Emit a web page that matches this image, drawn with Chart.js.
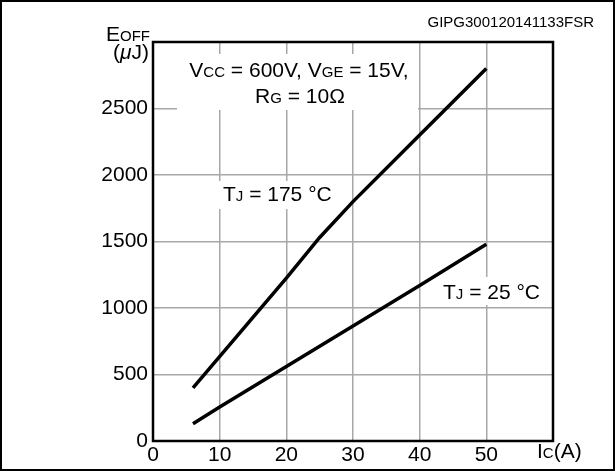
<!DOCTYPE html>
<html>
<head>
<meta charset="utf-8">
<script src="https://cdn.jsdelivr.net/npm/chart.js@4"></script>
<style>
  body { margin: 0; background: #fff; }
  canvas { display: block; }
</style>
</head>
<body>
<canvas id="chart" width="615" height="471"></canvas>
<script>
// datos
const icValues = [6, 20, 25, 30, 40, 50];
const eoff175 = [400, 1225, 1530, 1800, 2300, 2800];
const icValues25 = [6, 10, 20, 30, 40, 50];
const eoff25 = [130, 255, 560, 865, 1170, 1480];
const xTicks = [0, 10, 20, 30, 40, 50];
const yTicks = [0, 500, 1000, 1500, 2000, 2500];

const FONT = "'Liberation Sans', Arial, Helvetica, sans-serif";

function toPoints(xs, ys) {
    return xs.map(function (x, i) { return { x: x, y: ys[i] }; });
}

// texto con subindices (partes de distinto tamano)
function richText(ctx, parts, x, y, align) {
    let w = 0;
    parts.forEach(function (p) {
        ctx.font = (p[2] || '') + ' ' + p[1] + 'px ' + FONT;
        w += ctx.measureText(p[0]).width;
    });
    let cx = x;
    if (align === 'center') cx = x - w / 2;
    if (align === 'right') cx = x - w;
    ctx.textAlign = 'left';
    ctx.textBaseline = 'alphabetic';
    ctx.fillStyle = '#000';
    parts.forEach(function (p) {
        ctx.font = (p[2] || '') + ' ' + p[1] + 'px ' + FONT;
        ctx.fillText(p[0], cx, y);
        cx += ctx.measureText(p[0]).width;
    });
}

const decoPlugin = {
    id: 'deco',
    beforeDraw(chart) {
        const ctx = chart.ctx;
        ctx.save();
        ctx.fillStyle = '#fff';
        ctx.fillRect(0, 0, chart.width, chart.height);
        ctx.restore();
    },
    beforeDatasetsDraw(chart) {
        const ctx = chart.ctx;
        ctx.save();
        // cajas blancas detras de las etiquetas
        ctx.fillStyle = '#fff';
        ctx.fillRect(177, 54, 241, 56);
        ctx.fillRect(215, 181, 118, 28);
        ctx.fillRect(437, 277, 103, 28);
        const B = 21, S = 15;
        richText(ctx, [['V', B], ['CC', S], [' = 600V, V', B], ['GE', S], [' = 15V,', B]], 299, 77, 'center');
        richText(ctx, [['R', B], ['G', S], [' = 10\u03A9', B]], 300, 103, 'center');
        richText(ctx, [['T', B], ['J', S], [' = 175 \u00B0C', B]], 223, 201, 'left');
        richText(ctx, [['T', B], ['J', S], [' = 25 \u00B0C', B]], 443, 299, 'left');
        ctx.restore();
    },
    afterDatasetsDraw(chart) {
        const ctx = chart.ctx;
        const a = chart.chartArea;
        ctx.save();
        ctx.strokeStyle = '#000';
        ctx.lineWidth = 2.5;
        ctx.strokeRect(a.left, a.top, a.right - a.left, a.bottom - a.top);
        ctx.lineWidth = 2;
        ctx.strokeRect(1, 1, chart.width - 2, chart.height - 2);
        const B = 21, S = 15;
        richText(ctx, [['GIPG300120141133FSR', 15]], 594, 27, 'right');
        richText(ctx, [['E', B], ['OFF', S]], 150, 41, 'right');
        richText(ctx, [['(', B], ['\u03BC', B, 'italic'], ['J)', B]], 149, 59, 'right');
        richText(ctx, [['I', B], ['C', S], ['(A)', B]], 537, 458, 'left');
        ctx.restore();
    }
};

new Chart(document.getElementById('chart'), {
    type: 'line',
    data: {
        datasets: [{
            label: 'TJ = 175 °C',
            data: toPoints(icValues, eoff175),
            borderColor: '#000',
            borderWidth: 3.5,
            pointRadius: 0,
            tension: 0
        }, {
            label: 'TJ = 25 °C',
            data: toPoints(icValues25, eoff25),
            borderColor: '#000',
            borderWidth: 3.5,
            pointRadius: 0,
            tension: 0
        }]
    },
    options: {
        responsive: false,
        animation: false,
        devicePixelRatio: 1,
        layout: { padding: { left: 0, right: 62, top: 42, bottom: 0 } },
        plugins: { legend: { display: false }, tooltip: { enabled: false } },
        scales: {
            x: {
                type: 'linear',
                min: 0,
                max: 60,
                afterBuildTicks(s) { s.ticks = xTicks.concat([60]).map(function (v) { return { value: v }; }); },
                afterFit(s) { s.height = 30; },
                ticks: {
                    callback: function (v) { return xTicks.includes(v) ? String(v) : ''; },
                    font: { family: FONT, size: 21 },
                    color: '#000',
                    padding: 2,
                    maxRotation: 0
                },
                grid: { color: '#a8a8a8', lineWidth: 1.5, drawTicks: false },
                border: { display: false }
            },
            y: {
                min: 0,
                max: 3000,
                afterBuildTicks(s) { s.ticks = yTicks.concat([3000]).map(function (v) { return { value: v }; }); },
                afterFit(s) { s.width = 153; },
                ticks: {
                    callback: function (v) { return yTicks.includes(v) ? String(v) : ''; },
                    font: { family: FONT, size: 21 },
                    color: '#000',
                    padding: 5
                },
                grid: { color: '#a8a8a8', lineWidth: 1.5, drawTicks: false },
                border: { display: false }
            }
        }
    },
    plugins: [decoPlugin]
});
</script>
</body>
</html>
